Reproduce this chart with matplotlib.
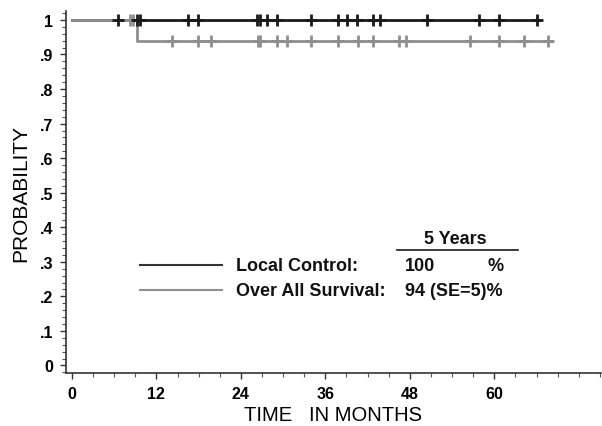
import matplotlib.pyplot as plt
from matplotlib.ticker import MultipleLocator, FuncFormatter

plt.rcParams['font.family'] = ['Liberation Sans', 'DejaVu Sans']

# Local control: no events, censored times (months)
lc_censor = [6.5, 9.3, 9.7, 16.5, 17.9, 26.3, 26.7, 27.7, 29.2, 33.9, 37.8,
             39.1, 40.5, 42.7, 43.8, 50.5, 57.8, 60.7, 66.1]
lc_end = 66.4

# Overall survival: one event at 9.25 months
os_times = [0, 9.25, 9.25, 68.2]
os_surv = [1.0, 1.0, 0.94, 0.94]
os_censor_hi = [8.25, 8.7]
os_censor_lo = [14.2, 17.9, 19.8, 26.5, 26.7, 29.2, 30.6, 33.9, 37.8, 40.7,
                42.7, 46.4, 47.4, 56.6, 60.7, 64.2, 67.7]

black = '#1a1a1a'
gray = '#8f8f8f'

fig = plt.figure(figsize=(6.02, 4.27), dpi=100)
ax = fig.add_axes([0.1096, 0.124, 0.888, 0.848])

# curves
ax.plot([0, lc_end], [1, 1], color=black, lw=2)
ax.plot(os_times, os_surv, color=gray, lw=2)
ax.plot(os_censor_hi, [1] * len(os_censor_hi), '+', color=gray, ms=9, mew=2)
ax.plot(os_censor_lo, [0.94] * len(os_censor_lo), '+', color=gray, ms=9, mew=2)
ax.plot(lc_censor, [1] * len(lc_censor), '+', color=black, ms=9, mew=2)

ax.set_xlim(-0.85, 75.1)
ax.set_ylim(-0.022, 1.026)

ax.xaxis.set_major_locator(MultipleLocator(12))
ax.xaxis.set_minor_locator(MultipleLocator(3))
ax.yaxis.set_major_locator(MultipleLocator(0.1))
ax.yaxis.set_minor_locator(MultipleLocator(0.02))


def yfmt(v, pos):
    if abs(v) < 1e-9:
        return '0'
    if abs(v - 1) < 1e-9:
        return '1'
    return '.%d' % round(v * 10)


ax.yaxis.set_major_formatter(FuncFormatter(yfmt))
ax.set_xticks([0, 12, 24, 36, 48, 60])

for s in ['top', 'right']:
    ax.spines[s].set_visible(False)
for s in ['left', 'bottom']:
    ax.spines[s].set_color('#333333')
    ax.spines[s].set_linewidth(1.2)

ax.tick_params(which='major', length=4, width=1, color='#333333', labelsize=11.5, pad=5)
ax.tick_params(which='minor', length=3, width=0.8, color='#555555')
for lbl in ax.get_xticklabels() + ax.get_yticklabels():
    lbl.set_fontweight('bold')

ax.set_xlabel('TIME   IN MONTHS', fontsize=14.5, labelpad=3)
ax.set_ylabel('PROBABILITY', fontsize=15, labelpad=7)

# legend block
ax.plot([9.7, 21.3], [0.29, 0.29], color='#333333', lw=1.5)
ax.plot([9.7, 21.3], [0.218, 0.218], color=gray, lw=1.5)
ax.plot([46.2, 63.3], [0.333, 0.333], color=black, lw=1.2)
kw = dict(fontsize=13, fontweight='bold', va='center', color='#111111')
ax.text(54.5, 0.367, '5 Years', ha='center', **kw)
ax.text(23.3, 0.29, 'Local Control:', **kw)
ax.text(47.3, 0.29, '100', **kw)
ax.text(59.0, 0.29, '%', **kw)
ax.text(23.3, 0.218, 'Over All Survival:', **kw)
ax.text(47.3, 0.218, '94 (SE=5)%', **kw)

fig.savefig('out.png', dpi=100)
